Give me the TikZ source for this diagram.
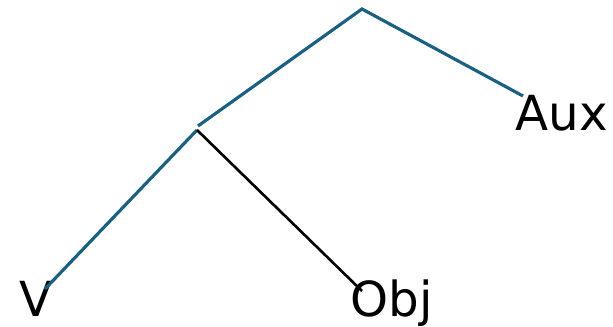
\documentclass[tikz,border=0pt]{standalone}
\usepackage{fontspec}
\setmainfont{DejaVu Sans}
\definecolor{branch}{HTML}{1A6080}
\begin{document}
\begin{tikzpicture}[x=0.02cm,y=-0.02cm,line width=1.8pt,font=\fontsize{27.5}{33}\selectfont]
\tikzset{leaf/.style={anchor=base west,inner sep=0pt}}
\useasboundingbox (0,0) rectangle (613,327);
\coordinate (root) at (362,9);
\coordinate (vpup) at (198,126);
\coordinate (vplow) at (197,130);
\coordinate (auxend) at (523,96);
\coordinate (vend) at (45,289);
\coordinate (objend) at (362,291);
\node[leaf] (aux) at (514,131) {Aux};
\node[leaf] (v) at (18,317) {V};
\node[leaf] (obj) at (349,317) {Obj};
\draw[branch] (vpup) -- (root) -- (auxend);
\draw[branch] (vplow) -- (vend);
\draw[line width=1.5pt] (vplow) -- (objend);
\end{tikzpicture}
\end{document}
